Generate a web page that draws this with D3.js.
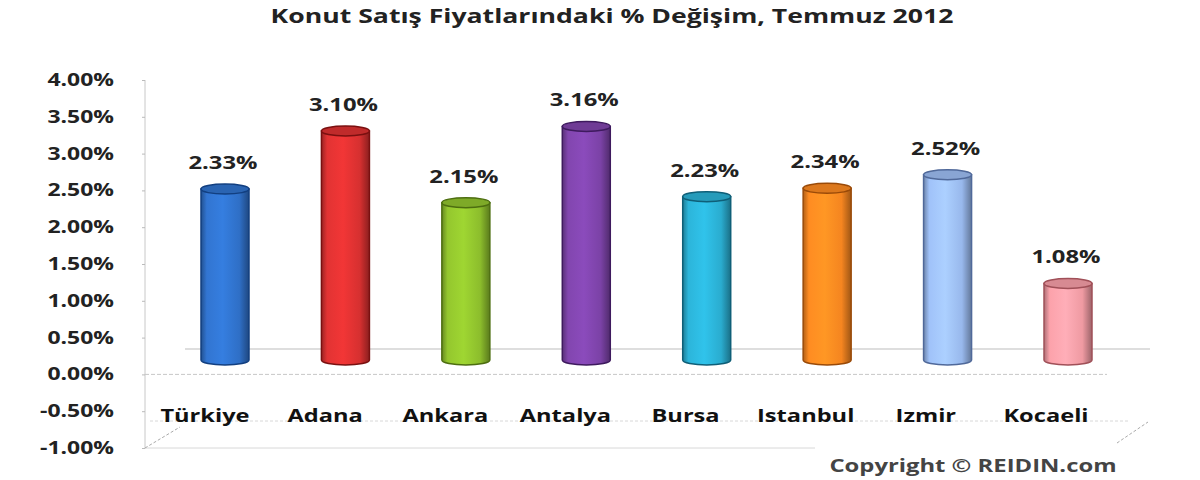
<!DOCTYPE html>
<html><head><meta charset="utf-8">
<script src="https://cdn.jsdelivr.net/npm/d3@7"></script>
<style>body{margin:0;background:#fff}svg{display:block}</style>
</head><body><svg id="c" width="1200" height="480"></svg>
<script>
const categories = ["Türkiye","Adana","Ankara","Antalya","Bursa","Istanbul","Izmir","Kocaeli"];
const values = [2.33,3.10,2.15,3.16,2.23,2.34,2.52,1.08];
const colors = ["#2f6fc6","#d63030","#8cbd2c","#7b42a6","#2aaccf","#f58520","#98b8ec","#ef9aa2"];
const darks  = ["#123f80","#7a1010","#4d6e10","#3e1a5e","#0f5f78","#9a4a08","#50699a","#a05058"];
const tickValues = [-1,-0.5,0,0.5,1,1.5,2,2.5,3,3.5,4];
const title = "Konut Satış Fiyatlarındaki % Değişim, Temmuz 2012";
const credit = "Copyright © REIDIN.com";

const svg = d3.select("#c");
const font = "'Open Sans','DejaVu Sans',sans-serif";
const pct = d => d3.format(".2f")(d).replace("\u2212","-") + "%";
function stretch(sel, k){
  sel.each(function(){
    const w = this.getComputedTextLength();
    d3.select(this).attr("textLength", w*k).attr("lengthAdjust","spacingAndGlyphs");
  });
}

const yAxis = d3.scaleLinear().domain([-1,4]).range([448,80]);
const yBar = d3.scaleLinear().domain([0,4]).range([365,63]);
const xBar = d3.scalePoint().domain(categories).range([225,1068]);
const xLab = d3.scalePoint().domain(categories).range([205,1046]);

svg.append("text").attr("x",612).attr("y",23).attr("text-anchor","middle")
  .attr("font-family",font).attr("font-weight","bold").attr("font-size",19)
  .attr("fill","#222").text(title).call(stretch,1.4);

const g = svg.append("g").attr("stroke","#c8c8c8").attr("fill","none");
g.append("line").attr("x1",145).attr("x2",145).attr("y1",yAxis(4)).attr("y2",yAxis(-1));
g.append("line").attr("x1",185).attr("x2",1150).attr("y1",349).attr("y2",349).attr("stroke","#bdbdbd");
g.append("line").attr("x1",145).attr("x2",1107).attr("y1",yAxis(0)).attr("y2",yAxis(0)).attr("stroke-dasharray","4,2");
g.append("line").attr("x1",150).attr("x2",1130).attr("y1",421).attr("y2",421).attr("stroke-dasharray","3,2").attr("stroke","#d8d8d8");
g.append("line").attr("x1",145).attr("x2",815).attr("y1",yAxis(-1)).attr("y2",yAxis(-1)).attr("stroke","#d8d8d8");
g.append("line").attr("x1",145).attr("y1",448).attr("x2",180).attr("y2",427).attr("stroke-dasharray","3,2").attr("stroke","#aaa");
g.append("line").attr("x1",1117).attr("y1",443).attr("x2",1148).attr("y2",422).attr("stroke-dasharray","3,2").attr("stroke","#aaa");

const ax = svg.append("g").attr("transform","translate(145,0)")
  .call(d3.axisLeft(yAxis).tickValues(tickValues).tickSize(3).tickPadding(28).tickFormat(pct));
ax.select(".domain").remove();
ax.selectAll(".tick line").attr("stroke","#bbb");
ax.selectAll("text").attr("font-family",font).attr("font-weight","bold")
  .attr("font-size",17).attr("fill","#222").call(stretch,1.35);

const defs = svg.append("defs");
colors.forEach((c,i)=>{
  const gr = defs.append("linearGradient").attr("id","g"+i).attr("x1","0").attr("x2","1");
  gr.append("stop").attr("offset","0").attr("stop-color",d3.color(c).darker(0.9));
  gr.append("stop").attr("offset","0.12").attr("stop-color",d3.color(c).brighter(0.15));
  gr.append("stop").attr("offset","0.45").attr("stop-color",d3.color(c).brighter(0.35));
  gr.append("stop").attr("offset","0.8").attr("stop-color",c);
  gr.append("stop").attr("offset","1").attr("stop-color",d3.color(c).darker(1.2));
});

const bw = 48, ry = 5;
const bars = svg.append("g").selectAll("g").data(values).join("g");
bars.append("path")
  .attr("d",(d,i)=>{
    const x0 = xBar(categories[i]) - bw/2, x1 = x0 + bw, yt = yBar(d), yb = yBar(0) - ry;
    return `M${x0},${yt} L${x0},${yb} A${bw/2},${ry} 0 0 0 ${x1},${yb} L${x1},${yt} Z`;
  })
  .attr("fill",(d,i)=>`url(#g${i})`).attr("stroke",(d,i)=>darks[i]).attr("stroke-width",1.5);
bars.append("ellipse")
  .attr("cx",(d,i)=>xBar(categories[i])).attr("cy",d=>yBar(d)).attr("rx",bw/2).attr("ry",ry)
  .attr("fill",(d,i)=>d3.color(colors[i]).darker(0.3)).attr("stroke",(d,i)=>darks[i]).attr("stroke-width",1.5);

svg.append("g").selectAll("text").data(values).join("text")
  .attr("x",(d,i)=>xBar(categories[i]) - 2)
  .attr("y",d=>yBar(d) - 20)
  .attr("text-anchor","middle").attr("font-family",font).attr("font-weight","bold")
  .attr("font-size",17).attr("fill","#222")
  .text(pct).call(stretch,1.4);

svg.append("g").selectAll("text").data(categories).join("text")
  .attr("x",d=>xLab(d)).attr("y",422)
  .attr("text-anchor","middle").attr("font-family",font).attr("font-weight","bold")
  .attr("font-size",17.5).attr("fill","#111").text(d=>d).call(stretch,1.35);

svg.append("text").attr("x",973).attr("y",472).attr("text-anchor","middle")
  .attr("font-family",font).attr("font-weight","bold").attr("font-size",17)
  .attr("fill","#444").text(credit).call(stretch,1.4);
</script></body></html>
